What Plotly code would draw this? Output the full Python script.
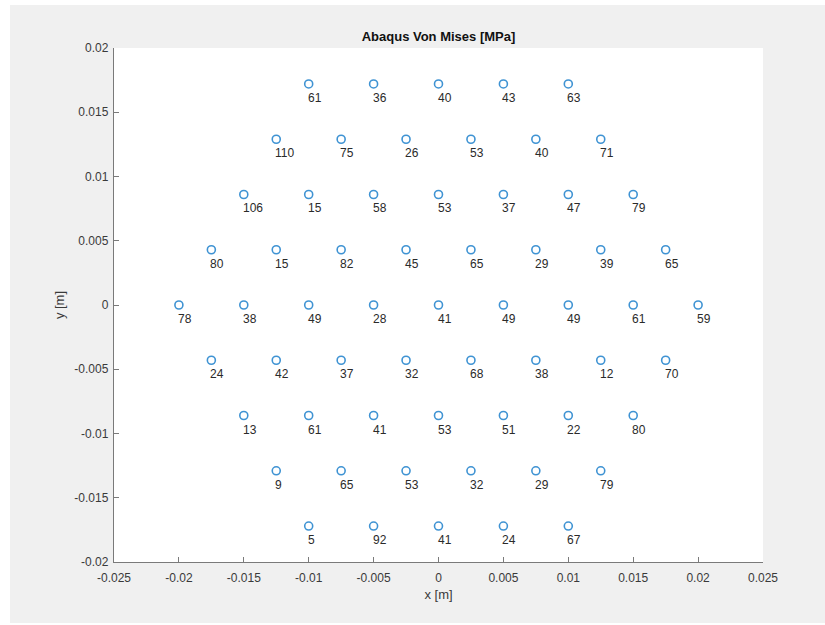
import plotly.graph_objects as go

# Node rows of the hexagonal sensor grid: y position, x positions and von Mises stress labels
row_y = [0.0172, 0.0129, 0.0086, 0.0043, 0.0, -0.0043, -0.0086, -0.0129, -0.0172]
row_x = [
    [-0.01, -0.005, 0.0, 0.005, 0.01],
    [-0.0125, -0.0075, -0.0025, 0.0025, 0.0075, 0.0125],
    [-0.015, -0.01, -0.005, 0.0, 0.005, 0.01, 0.015],
    [-0.0175, -0.0125, -0.0075, -0.0025, 0.0025, 0.0075, 0.0125, 0.0175],
    [-0.02, -0.015, -0.01, -0.005, 0.0, 0.005, 0.01, 0.015, 0.02],
    [-0.0175, -0.0125, -0.0075, -0.0025, 0.0025, 0.0075, 0.0125, 0.0175],
    [-0.015, -0.01, -0.005, 0.0, 0.005, 0.01, 0.015],
    [-0.0125, -0.0075, -0.0025, 0.0025, 0.0075, 0.0125],
    [-0.01, -0.005, 0.0, 0.005, 0.01],
]
row_stress = [
    [61, 36, 40, 43, 63],
    [110, 75, 26, 53, 40, 71],
    [106, 15, 58, 53, 37, 47, 79],
    [80, 15, 82, 45, 65, 29, 39, 65],
    [78, 38, 49, 28, 41, 49, 49, 61, 59],
    [24, 42, 37, 32, 68, 38, 12, 70],
    [13, 61, 41, 53, 51, 22, 80],
    [9, 65, 53, 32, 29, 79],
    [5, 92, 41, 24, 67],
]

x_tick_vals = [-0.025, -0.02, -0.015, -0.01, -0.005, 0, 0.005, 0.01, 0.015, 0.02, 0.025]
x_tick_text = ["-0.025", "-0.02", "-0.015", "-0.01", "-0.005", "0", "0.005", "0.01", "0.015", "0.02", "0.025"]
y_tick_vals = [-0.02, -0.015, -0.01, -0.005, 0, 0.005, 0.01, 0.015, 0.02]
y_tick_text = ["-0.02", "-0.015", "-0.01", "-0.005", "0", "0.005", "0.01", "0.015", "0.02"]

xs, ys, labels = [], [], []
for y, xrow, srow in zip(row_y, row_x, row_stress):
    for x, s in zip(xrow, srow):
        xs.append(x)
        ys.append(y)
        labels.append(str(s))

FONT = "Liberation Sans, Arial, Helvetica, sans-serif"
AXIS_COL = "#7a7a7a"
TEXT_COL = "#3a3a3a"

fig = go.Figure()
fig.add_trace(go.Scatter(
    x=xs, y=ys, mode="markers",
    marker=dict(symbol="circle-open", size=8, color="#3f93d3",
                line=dict(width=1.6, color="#3f93d3")),
    hoverinfo="skip", showlegend=False,
))

annotations = [
    dict(x=x, y=y, text=t, showarrow=False, xanchor="left", yanchor="middle",
         xshift=-3, yshift=-14, font=dict(family=FONT, size=12, color="#2a2a2a"))
    for x, y, t in zip(xs, ys, labels)
]

L, R, T, B = 114, 62, 48, 63
W, H = 825, 625
pw, ph = W - L - R, H - T - B

shapes = [
    # grey figure panel
    dict(type="rect", xref="paper", yref="paper", layer="below",
         x0=(10 - L) / pw, x1=(W - L + 2) / pw,
         y0=(H - B - 623) / ph, y1=(H - B - 5) / ph,
         fillcolor="#f0f0f0", line=dict(width=0)),
    # white axes area
    dict(type="rect", xref="paper", yref="paper", layer="below",
         x0=0, x1=1, y0=0, y1=1, fillcolor="white", line=dict(width=0)),
]

axis_common = dict(
    showgrid=False, zeroline=False, showline=True, linecolor=AXIS_COL, linewidth=1.4,
    ticks="inside", ticklen=5, tickcolor=AXIS_COL, tickwidth=1.2,
    tickfont=dict(family=FONT, size=12, color=TEXT_COL), mirror=False,
)

fig.update_layout(
    width=W, height=H,
    margin=dict(l=L, r=R, t=T, b=B),
    paper_bgcolor="white", plot_bgcolor="white",
    title=dict(text="<b>Abaqus Von Mises [MPa]</b>", x=0.5, xref="paper",
               y=1 - 36 / H, yanchor="middle",
               font=dict(family=FONT, size=13, color="#111111")),
    xaxis=dict(range=[-0.025, 0.025], tickvals=x_tick_vals, ticktext=x_tick_text,
               ticklabelstandoff=4,
               title=dict(text="x [m]", standoff=6, font=dict(family=FONT, size=13, color=TEXT_COL)),
               **axis_common),
    yaxis=dict(range=[-0.02, 0.02], tickvals=y_tick_vals, ticktext=y_tick_text,
               ticklabelstandoff=2,
               title=dict(text="y [m]", standoff=6, font=dict(family=FONT, size=13, color=TEXT_COL)),
               **axis_common),
    annotations=annotations,
    shapes=shapes,
)

fig.write_html("out.html")
